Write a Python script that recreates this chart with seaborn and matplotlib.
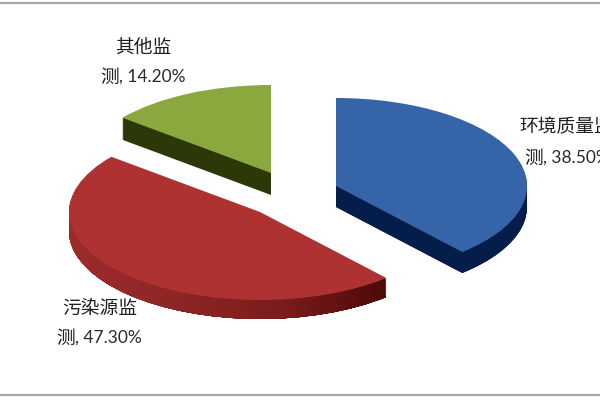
import matplotlib
matplotlib.use('Agg')
import matplotlib.pyplot as plt
from matplotlib.colors import LinearSegmentedColormap
from matplotlib.patches import PathPatch
from matplotlib.path import Path
import numpy as np
import seaborn as sns

# Datos
categorias = ['环境质量监测', '污染源监测', '其他监测']
valores = [38.5, 47.3, 14.2]
linea_1 = ['环境质量监', '污染源监', '其他监']
linea_2_cjk = ['测', '测', '测']
linea_2_num = [', 38.50%', ', 47.30%', ', 14.20%']

# Colores
colores_cara = ['#3565A8', '#AE3232', '#8AA83E']
colores_lado = ['#051D4A', '#7A1E1E', '#2C3808']

# Geometria en pixeles de la imagen (600x400)
radio_x, radio_y = 191, 88
centros = [(336, 186), (260, 212), (271, 173)]
profundidad = [21, 19, 22]
pos_linea_1 = [(519, 127), (62, 308), (115, 47)]
pos_linea_2 = [(543, 158), (75, 338), (119, 77)]

sns.set_style('white')
plt.rcParams['font.family'] = ['Noto Sans CJK SC', 'DejaVu Sans']

fig = plt.figure(figsize=(6, 4), dpi=100)
ax = fig.add_axes([0, 0, 1, 1])


def a_datos(x, y):
    # pasa de pixeles a unidades del pastel
    return x / radio_x, -y / radio_y


def dibujar_pastel(desp, cols, z):
    wedges, _ = ax.pie(valores, colors=cols, startangle=90, counterclock=False,
                       wedgeprops={'linewidth': 0, 'zorder': z})
    for w, c, d, prof in zip(wedges, centros, desp, profundidad):
        w.set_center(a_datos(c[0], c[1] + min(d, prof)))
    return wedges


# Lados: copias del pastel desplazadas hacia abajo
trazos_rojo = []
for d in range(max(profundidad), 0, -1):
    capa = dibujar_pastel([d] * 3, colores_lado, 1)
    rojo = capa[1]
    trazos_rojo.append(rojo.get_path().transformed(rojo.get_patch_transform()))

# Cara superior
dibujar_pastel([0] * 3, colores_cara, 3)

ax.set_aspect('auto')
ax.set_xlim(0, 600 / radio_x)
ax.set_ylim(-400 / radio_y, 0)
ax.set_axis_off()

# Degradado del lado rojo
cmap_rojo = LinearSegmentedColormap.from_list('lado_rojo', ['#9C2C2C', '#8E2626', '#7C1C1C', '#4E0A0A'])
x0, y1 = a_datos(68, 200)
x1, y0 = a_datos(386, 322)
img = ax.imshow(np.linspace(0, 1, 256).reshape(1, -1), cmap=cmap_rojo, extent=(x0, x1, y0, y1),
                aspect='auto', zorder=2)
clip = PathPatch(Path.make_compound_path(*trazos_rojo), transform=ax.transData)
img.set_clip_path(clip)
ax.set_xlim(0, 600 / radio_x)
ax.set_ylim(-400 / radio_y, 0)

# Etiquetas: el chino y los numeros van con fuentes distintas, como en el original
for txt, cjk, num, p1, p2 in zip(linea_1, linea_2_cjk, linea_2_num, pos_linea_1, pos_linea_2):
    ax.text(*a_datos(*p1), txt, ha='left', va='center', fontsize=13.5, color='#1E1E1E', zorder=5)
    ax.text(*a_datos(*p2), cjk, ha='right', va='center', fontsize=13.5, color='#1E1E1E', zorder=5)
    ax.text(*a_datos(*p2), num, ha='left', va='center', fontsize=12.5, color='#2A2A2A',
            family=['Lato', 'DejaVu Sans'], zorder=5)

# Lineas del marco
for y in [3.5, 395.5]:
    ax.plot([0, 600 / radio_x], [a_datos(0, y)[1]] * 2, color='#A8A8A8', lw=1.6, zorder=4)

fig.savefig('out.png', dpi=100)
